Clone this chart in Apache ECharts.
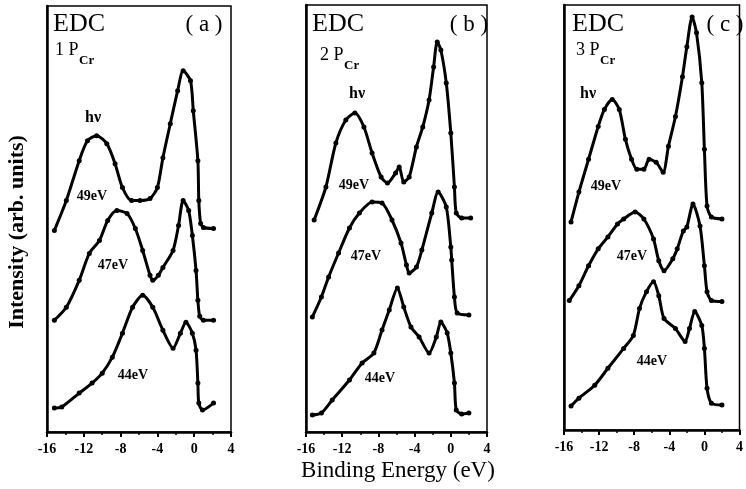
<!DOCTYPE html>
<html>
<head>
<meta charset="utf-8">
<script src="https://cdn.jsdelivr.net/npm/echarts@6/dist/echarts.min.js"></script>
<style>
  html, body { margin: 0; background: #fff; }
  #main { width: 746px; height: 489px; }
</style>
</head>
<body>
<div id="main"></div>
<script>
// EDC spectra, binding energy (eV) vs intensity (arb. units)
const panelLetters = ['a', 'b', 'c'];
const resonances = ['1 P', '2 P', '3 P'];
const photonLabels = ['49eV', '47eV', '44eV'];

// panel (a)
const a49 = [[-15.2,202],[-13.9,232],[-12.5,272],[-11.6,292],[-10.6,297],[-9.5,289],[-8.6,269],[-7.8,245],[-6.8,232],[-5.9,232],[-4.8,234],[-4.0,245],[-3.4,275],[-2.6,309],[-1.8,342],[-1.2,362],[-0.4,352],[-0.1,322],[0.4,272],[0.5,232],[0.7,209],[1.0,205],[2.1,204]];
const a47 = [[-15.2,112],[-13.9,125],[-12.5,152],[-11.4,179],[-10.3,192],[-9.4,212],[-8.4,222],[-7.3,219],[-6.4,204],[-5.6,182],[-4.8,157],[-4.5,152],[-3.9,157],[-3.4,165],[-2.3,182],[-1.7,207],[-1.2,232],[-0.6,222],[-0.2,197],[0.2,162],[0.4,132],[0.6,116],[1.0,112],[2.1,112]];
const a44 = [[-15.2,24],[-14.4,25],[-12.5,39],[-11.1,49],[-10.0,59],[-8.9,75],[-7.8,99],[-6.7,125],[-5.6,137],[-4.5,125],[-3.4,102],[-2.3,84],[-1.5,99],[-0.9,110],[-0.2,99],[0.2,82],[0.4,49],[0.5,29],[0.9,22],[2.1,29]];

// panel (b)
const b49 = [[-15.1,212],[-13.8,245],[-12.7,289],[-11.6,312],[-10.6,319],[-9.6,305],[-8.7,279],[-7.7,255],[-7.0,249],[-6.1,259],[-5.7,265],[-5.2,250],[-4.6,255],[-3.8,285],[-3.1,305],[-2.4,332],[-1.9,365],[-1.5,390],[-1.1,382],[-0.5,349],[0.0,299],[0.4,245],[0.6,219],[1.2,214],[2.2,214]];
const b47 = [[-15.3,115],[-14.3,135],[-13.5,155],[-12.4,179],[-11.2,204],[-10.1,219],[-8.7,230],[-7.6,229],[-6.5,212],[-5.5,189],[-4.9,167],[-4.6,159],[-3.8,165],[-3.2,182],[-2.1,219],[-1.4,240],[-0.5,225],[0.0,185],[0.1,172],[0.4,135],[0.7,119],[2.0,117]];
const b44 = [[-15.3,17],[-14.3,19],[-13.1,32],[-11.2,52],[-9.8,69],[-8.5,79],[-7.6,102],[-6.8,122],[-5.9,144],[-5.2,125],[-4.4,105],[-3.5,95],[-2.4,79],[-1.6,95],[-1.1,110],[-0.4,99],[0.0,79],[0.4,49],[0.6,22],[1.2,18],[2.0,19]];

// panel (c)
const c49 = [[-15.2,209],[-14.3,239],[-13.2,272],[-12.1,305],[-11.4,322],[-10.5,332],[-9.7,322],[-9.0,292],[-8.3,272],[-7.7,262],[-6.9,262],[-6.3,272],[-5.5,269],[-4.7,259],[-4.1,285],[-3.3,315],[-2.5,355],[-2.0,385],[-1.4,415],[-0.9,399],[-0.3,349],[0.0,282],[0.3,225],[0.8,214],[2.0,212]];
const c47 = [[-15.4,130],[-14.3,145],[-13.2,165],[-12.1,182],[-11.0,194],[-9.9,207],[-9.2,212],[-7.9,219],[-6.9,212],[-5.8,192],[-5.2,170],[-4.6,160],[-3.6,172],[-3.1,182],[-2.4,200],[-2.0,204],[-1.3,227],[-0.5,205],[0.0,165],[0.3,139],[0.8,130],[2.0,129]];
const c44 = [[-15.2,24],[-14.3,32],[-12.5,45],[-11.0,62],[-9.2,82],[-8.1,95],[-7.4,122],[-6.6,139],[-5.8,149],[-5.2,135],[-4.6,112],[-3.3,102],[-2.2,89],[-1.7,102],[-1.1,119],[-0.3,105],[0.0,82],[0.3,42],[0.8,27],[2.0,25]];

const curves = [[a49, a47, a44], [b49, b47, b44], [c49, c47, c44]];

const serif = '"Liberation Serif", "DejaVu Serif", serif';

const grids = [
  { left: 47, top: 6, width: 184, height: 426 },
  { left: 306, top: 5, width: 181, height: 427 },
  { left: 564, top: 5, width: 182, height: 425 }
].map(g => Object.assign(g, { show: true, borderColor: '#000', borderWidth: 1.5, containLabel: false }));

const xAxes = grids.map((g, i) => ({
  gridIndex: i,
  type: 'value',
  min: -16,
  max: 4,
  interval: 4,
  axisLine: { onZero: false, lineStyle: { color: '#000', width: 2.5 } },
  axisTick: { length: 5, lineStyle: { color: '#000', width: 2 } },
  minorTick: { show: true, splitNumber: 2, length: 3, lineStyle: { color: '#000', width: 1.5 } },
  splitLine: { show: false },
  axisLabel: { color: '#000', fontFamily: serif, fontWeight: 'bold', fontSize: 14, margin: 10 }
}));

const yAxes = grids.map((g, i) => ({
  gridIndex: i,
  type: 'value',
  min: 0,
  max: 427,
  axisLine: { show: true, onZero: false, lineStyle: { color: '#000', width: 2.5 } },
  axisTick: { show: false },
  axisLabel: { show: false },
  splitLine: { show: false }
}));

const series = [];
curves.forEach((set, i) => {
  set.forEach((d, k) => {
    series.push({
      name: panelLetters[i] + ' ' + photonLabels[k],
      type: 'line',
      xAxisIndex: i,
      yAxisIndex: i,
      data: d,
      smooth: 0.25,
      symbol: 'circle',
      symbolSize: 5,
      itemStyle: { color: '#000' },
      lineStyle: { color: '#000', width: 3 },
      silent: true
    });
  });
});

// label positions
const edcPos = [[79, 24], [338, 24], [598, 24]];
const letterPos = [[204, 25], [469, 25], [725, 25]];
const resPos = [[55, 50], [320, 55], [576, 50]];
const hvPos = [[93, 118], [357, 94], [588, 94]];
const ePos = [
  [[92, 196], [113, 265], [133, 375]],
  [[354, 185], [366, 256], [380, 378]],
  [[606, 186], [632, 256], [652, 361]]
];

function txt(x, y, text, font, align) {
  return {
    type: 'text', x: x, y: y, silent: true,
    style: { text: text, font: font, fill: '#000', align: align || 'center', verticalAlign: 'middle' }
  };
}

const graphics = [];
panelLetters.forEach((p, i) => {
  graphics.push(txt(edcPos[i][0], edcPos[i][1], 'EDC', '26px ' + serif));
  graphics.push(txt(letterPos[i][0], letterPos[i][1], '( ' + p + ' )', '23px ' + serif));
  graphics.push(txt(resPos[i][0], resPos[i][1], resonances[i], '18px ' + serif, 'left'));
  graphics.push(txt(resPos[i][0] + 24, resPos[i][1] + 11, 'Cr', 'bold 13px ' + serif, 'left'));
  graphics.push(txt(hvPos[i][0], hvPos[i][1], 'hν', 'bold 16px ' + serif));
  photonLabels.forEach((lab, k) => {
    graphics.push(txt(ePos[i][k][0], ePos[i][k][1], lab, 'bold 14px ' + serif));
  });
});
graphics.push({
  type: 'text', x: 17, y: 232, rotation: Math.PI / 2, silent: true,
  style: { text: 'Intensity (arb. units)', font: 'bold 22px ' + serif, fill: '#000', align: 'center', verticalAlign: 'middle' }
});
graphics.push(txt(398, 471, 'Binding Energy (eV)', '23px ' + serif));

const myChart = echarts.init(document.getElementById('main'));
myChart.setOption({
  animation: false,
  backgroundColor: '#fff',
  grid: grids,
  xAxis: xAxes,
  yAxis: yAxes,
  series: series,
  graphic: graphics
});
</script>
</body>
</html>
